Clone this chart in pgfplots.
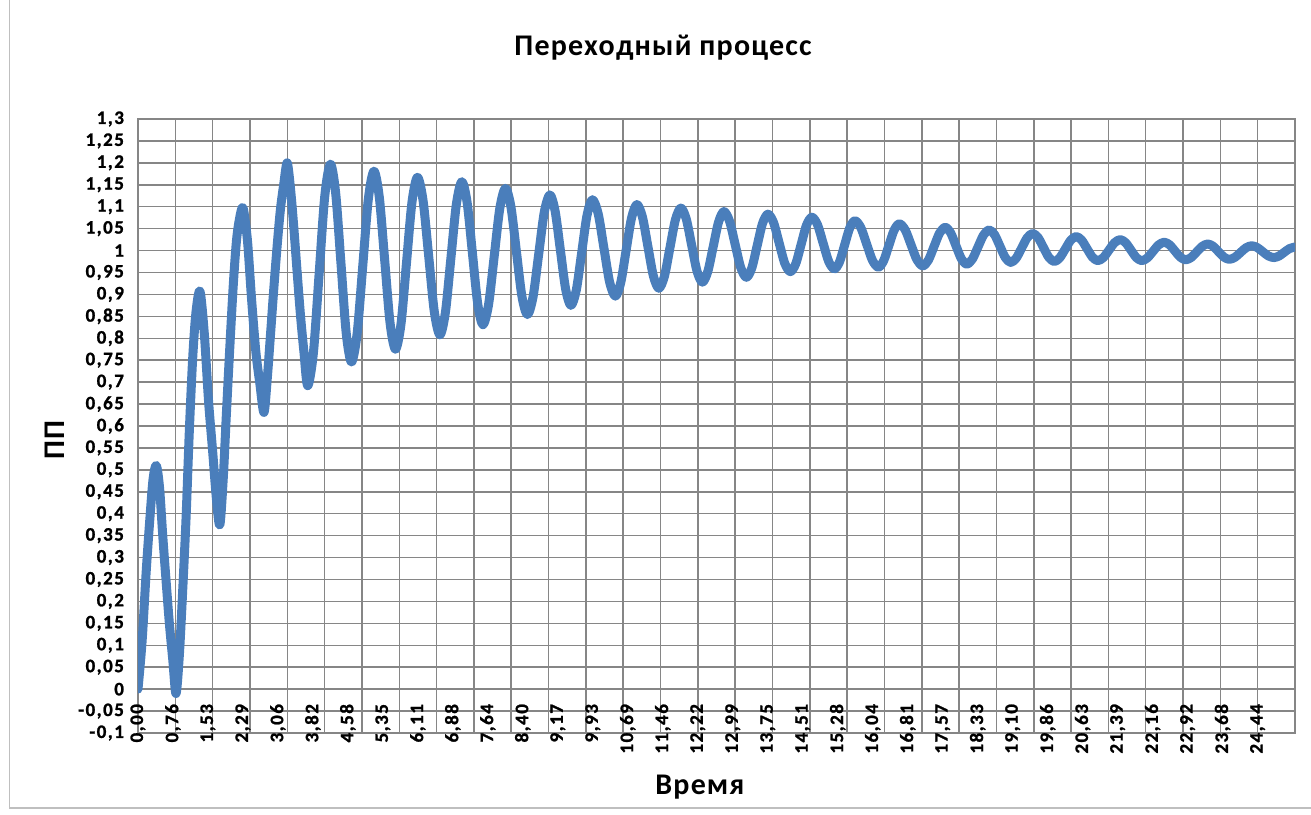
\documentclass[border=0pt]{standalone}
\usepackage{fontspec}
\setmainfont{Carlito}
\newfontfamily\tickfont[LetterSpace=8, FakeBold=1.2]{Carlito}
\newfontfamily\labfont[LetterSpace=4]{Carlito}
\usepackage{pgfplots}
\pgfplotsset{compat=1.18}
\definecolor{lineblue}{HTML}{4A7EBB}
\definecolor{gridgray}{HTML}{868686}
\begin{document}
\begin{tikzpicture}
\useasboundingbox (0pt,0pt) rectangle (655.5pt,407pt);
\draw[color=black!25, line width=0.8pt] (4.75pt,407pt) -- (4.75pt,3pt) -- (655.5pt,3pt);
\begin{axis}[
  at={(69pt,40.5pt)}, anchor=south west,
  scale only axis, width=578.5pt, height=307pt,
  xmin=0, xmax=25.2557, ymin=-0.1, ymax=1.3,
  axis line style={gridgray, line width=0.75pt},
  grid style={gridgray, line width=0.75pt},
  minor grid style={gridgray, line width=0.75pt},
  ymajorgrids,
  ytick distance=0.05,
  xtick={0,0.76375,...,24.5},
  xticklabels={{0,00},{0,76},{1,53},{2,29},{3,06},{3,82},{4,58},{5,35},{6,11},{6,88},{7,64},{8,40},{9,17},{9,93},{10,69},{11,46},{12,22},{12,99},{13,75},{14,51},{15,28},{16,04},{16,81},{17,57},{18,33},{19,10},{19,86},{20,63},{21,39},{22,16},{22,92},{23,68},{24,44}},
  minor xtick={0,0.8147,...,25.3},
  xminorgrids,
  major tick length=0pt, minor tick length=0pt,
  tick style={draw=none},
  tick label style={font=\tickfont\bfseries\fontsize{9.5}{11}\selectfont},
  yticklabel style={xshift=-3.5pt, /pgf/number format/.cd, use comma, fixed, precision=2, assume math mode=true},
  xticklabel style={yshift=18pt, rotate=90, anchor=east},
  title={Переходный процесс},
  title style={at={(axis description cs:0.4538,1.0961)}, anchor=center, font=\labfont\bfseries\fontsize{15}{18}\selectfont},
  xlabel={Время},
  xlabel style={at={(axis description cs:0.4857,-0.0885)}, anchor=center, font=\labfont\bfseries\fontsize{15}{18}\selectfont},
  ylabel={ПП},
  ylabel style={at={(axis description cs:-0.0717,0.477)}, anchor=center, font=\labfont\bfseries\fontsize{15}{18}\selectfont},
]
\addplot[lineblue, line width=4.5pt, smooth, line join=round, line cap=round] coordinates {
(0,0) (0.09,0.11) (0.18,0.27) (0.26,0.39) (0.33,0.48) (0.40,0.51)
(0.47,0.46) (0.54,0.35) (0.615,0.244) (0.687,0.147) (0.76,0.066) (0.83,-0.01)
(0.904,0.08) (0.977,0.228) (1.049,0.39) (1.121,0.59) (1.194,0.755) (1.266,0.86) (1.353,0.907)
(1.447,0.811) (1.54,0.657) (1.628,0.544) (1.715,0.43) (1.787,0.375)
(1.86,0.479) (1.932,0.633) (2.004,0.779) (2.077,0.917) (2.149,1.022) (2.22,1.075) (2.294,1.097)
(2.39,1.022) (2.477,0.892) (2.571,0.771) (2.658,0.698) (2.749,0.631)
(2.82,0.706) (2.894,0.811) (2.967,0.917) (3.04,1.014) (3.11,1.095) (3.18,1.15) (3.256,1.20)
(3.33,1.14) (3.40,1.054) (3.475,0.949) (3.547,0.852) (3.62,0.771) (3.704,0.692)
(3.828,0.766) (3.952,0.9445) (4.076,1.123) (4.20,1.197)
(4.315,1.131) (4.43,0.9715) (4.545,0.812) (4.66,0.746)
(4.7825,0.810) (4.905,0.9635) (5.0275,1.117) (5.15,1.181)
(5.2675,1.1215) (5.385,0.978) (5.5025,0.8345) (5.62,0.775)
(5.74,0.832) (5.86,0.971) (5.98,1.110) (6.10,1.167)
(6.2225,1.114) (6.345,0.9875) (6.4675,0.861) (6.59,0.808)
(6.71,0.859) (6.83,0.9825) (6.95,1.106) (7.07,1.157)
(7.185,1.109) (7.30,0.994) (7.415,0.879) (7.53,0.831)
(7.6525,0.877) (7.775,0.9865) (7.8975,1.096) (8.02,1.142)
(8.14,1.100) (8.26,0.998) (8.38,0.896) (8.50,0.854)
(8.6225,0.894) (8.745,0.9905) (8.8675,1.087) (8.99,1.127)
(9.105,1.090) (9.22,1.001) (9.335,0.912) (9.45,0.875)
(9.5675,0.910) (9.685,0.9955) (9.8025,1.081) (9.92,1.116)
(10.045,1.084) (10.17,1.006) (10.295,0.928) (10.42,0.896)
(10.5375,0.927) (10.655,1.0005) (10.7725,1.074) (10.89,1.105)
(11.01,1.077) (11.13,1.0095) (11.25,0.942) (11.37,0.914)
(11.49,0.941) (11.61,1.0055) (11.73,1.070) (11.85,1.097)
(11.9675,1.072) (12.085,1.0125) (12.2025,0.953) (12.32,0.928)
(12.4375,0.952) (12.555,1.0085) (12.6725,1.065) (12.79,1.089)
(12.9125,1.067) (13.035,1.014) (13.1575,0.961) (13.28,0.939)
(13.3975,0.960) (13.515,1.011) (13.6325,1.062) (13.75,1.083)
(13.8725,1.064) (13.995,1.0175) (14.1175,0.971) (14.24,0.952)
(14.3575,0.970) (14.475,1.014) (14.5925,1.058) (14.71,1.076)
(14.8325,1.059) (14.955,1.017) (15.0775,0.975) (15.20,0.958)
(15.3125,0.974) (15.425,1.013) (15.5375,1.052) (15.65,1.068)
(15.7775,1.0525) (15.905,1.015) (16.0325,0.9775) (16.16,0.962)
(16.275,0.9765) (16.39,1.0115) (16.505,1.0465) (16.62,1.061)
(16.7475,1.047) (16.875,1.013) (17.0025,0.979) (17.13,0.965)
(17.2525,0.978) (17.375,1.009) (17.4975,1.040) (17.62,1.053)
(17.7375,1.0407) (17.855,1.011) (17.9725,0.9813) (18.09,0.969)
(18.2125,0.9804) (18.335,1.008) (18.4575,1.0356) (18.58,1.047)
(18.6975,1.0362) (18.815,1.010) (18.9325,0.9838) (19.05,0.973)
(19.17,0.9827) (19.29,1.006) (19.41,1.0293) (19.53,1.039)
(19.6475,1.0296) (19.765,1.007) (19.8825,0.9844) (20.00,0.975)
(20.12,0.9834) (20.24,1.0035) (20.36,1.0236) (20.48,1.032)
(20.5975,1.0239) (20.715,1.0045) (20.8325,0.9851) (20.95,0.977)
(21.0725,0.984) (21.195,1.001) (21.3175,1.018) (21.44,1.025)
(21.5575,1.018) (21.675,1.001) (21.7925,0.984) (21.91,0.977)
(22.0325,0.9832) (22.155,0.998) (22.2775,1.0128) (22.40,1.019)
(22.5175,1.0131) (22.635,0.999) (22.7525,0.9849) (22.87,0.979)
(22.99,0.9843) (23.11,0.997) (23.23,1.0097) (23.35,1.015)
(23.4675,1.0099) (23.585,0.9975) (23.7025,0.9851) (23.82,0.980)
(23.9425,0.9845) (24.065,0.9955) (24.1875,1.0065) (24.31,1.011)
(24.43,1.007) (24.55,0.9975) (24.67,0.988) (24.79,0.984)
(24.905,0.9875) (25.02,0.996) (25.135,1.0045) (25.25,1.008)
};
\end{axis}
\end{tikzpicture}
\end{document}
